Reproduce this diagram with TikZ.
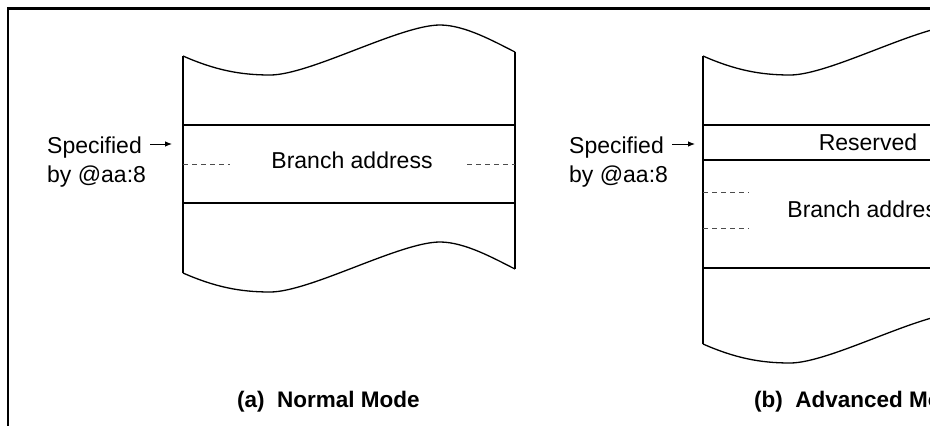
\documentclass[tikz,border=0pt]{standalone}
\usepackage{fontspec}
\setmainfont{Liberation Sans}
\usetikzlibrary{arrows.meta}
\begin{document}
\begin{tikzpicture}[x=1pt,y=-1pt,
  boxline/.style={line width=1.3pt},
  frameline/.style={line width=2.6pt},
  guide/.style={draw=black!70, line width=0.9pt, dash pattern=on 5pt off 4pt},
  lbl/.style={inner sep=0pt, font=\fontsize{23}{27}\selectfont},
  caption/.style={inner sep=0pt, font=\fontsize{22.5}{27}\selectfont\bfseries},
  ptr/.style={line width=0.9pt, -{Latex[length=7pt,width=5.5pt]}},
  wavyedge/.pic={
    \draw[boxline] (0,0) .. controls (32,14) and (57,19) .. (87,19)
      .. controls (127,19) and (217,-31) .. (257,-31)
      .. controls (282,-31) and (312,-14) .. (332,-4);
  }
]
\useasboundingbox (0,0) rectangle (930,426);
\clip (0,0) rectangle (930,426);

% outer frame (top and left edges)
\draw[frameline] (8,440) -- (8,8.5) -- (945,8.5);

% ---- (a) normal mode memory strip ----
\pic at (183,56) {wavyedge};
\pic at (183,273) {wavyedge};
\draw[boxline] (183,56) -- (183,273);
\draw[boxline] (515,52) -- (515,269);
\draw[boxline] (183,125) -- (515,125);
\draw[boxline] (183,203) -- (515,203);
\draw[guide] (183,164) -- (230,164);
\draw[guide] (467,164) -- (515,164);

\node[lbl, anchor=base] (brA) at (352,168) {Branch address};
\node[lbl, anchor=base west] (specA) at (47,153) {Specified};
\node[lbl, anchor=base west] (byA) at (47,182) {by @aa:8};
\coordinate (tipA) at (172,144);
\draw[ptr] ([shift={(8,-9)}]specA.base east) -- (tipA);
\node[caption, anchor=base west] (capA) at (237,407) {(a)\hspace{0.55em}Normal Mode};

% ---- (b) advanced mode memory strip ----
\pic at (703,56) {wavyedge};
\pic at (703,344) {wavyedge};
\draw[boxline] (703,56) -- (703,344);
\draw[boxline] (1035,52) -- (1035,340);
\draw[boxline] (703,125) -- (1035,125);
\draw[boxline] (703,160) -- (1035,160);
\draw[boxline] (703,268) -- (1035,268);
\draw[guide] (703,192) -- (749,192);
\draw[guide] (703,228) -- (749,228);

\node[lbl, anchor=base] (resB) at (868,150) {Reserved};
\node[lbl, anchor=base] (brB) at (868,217) {Branch address};
\node[lbl, anchor=base west] (specB) at (569,153) {Specified};
\node[lbl, anchor=base west] (byB) at (569,182) {by @aa:8};
\coordinate (tipB) at (695,144);
\draw[ptr] ([shift={(8,-9)}]specB.base east) -- (tipB);
\node[caption, anchor=base west] (capB) at (754,407) {(b)\hspace{0.55em}Advanced Mode};
\end{tikzpicture}
\end{document}
